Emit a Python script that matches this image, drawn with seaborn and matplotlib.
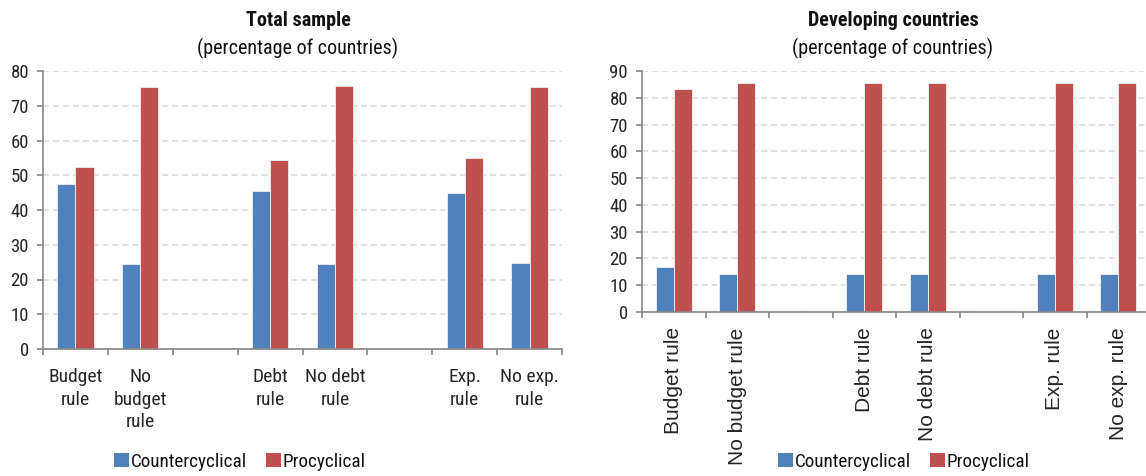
import matplotlib
matplotlib.use("Agg")
import matplotlib.pyplot as plt
from matplotlib import font_manager
from matplotlib.patches import Patch
import numpy as np
import pandas as pd
import seaborn as sns

# ---- data -------------------------------------------------------------
rules = ["Budget rule", "No budget rule", "Debt rule", "No debt rule",
         "Exp. rule", "No exp. rule"]
slots = ["Budget rule", "No budget rule", "gap1", "Debt rule", "No debt rule",
         "gap2", "Exp. rule", "No exp. rule"]
series = ["Countercyclical", "Procyclical"]

total_counter = [47.6, 24.5, 45.5, 24.4, 45.0, 24.7]
total_pro = [52.4, 75.5, 54.5, 75.6, 55.0, 75.3]

dev_counter = [16.7, 14.3, 14.3, 14.3, 14.3, 14.3]
dev_pro = [83.3, 85.7, 85.7, 85.7, 85.7, 85.7]

total_labels = ["Budget\nrule", "No\nbudget\nrule", "", "Debt\nrule",
                "No debt\nrule", "", "Exp.\nrule", "No exp.\nrule"]
dev_labels = ["Budget rule", "No budget rule", "", "Debt rule",
              "No debt rule", "", "Exp. rule", "No exp. rule"]

colors = ["#4F81BD", "#C0504D"]

# ---- styling ----------------------------------------------------------
sns.set_theme(style="white")
installed = {f.name for f in font_manager.fontManager.ttflist}
narrow = next((n for n in ("Roboto Condensed", "Archivo Narrow", "PT Sans Narrow")
               if n in installed), "Liberation Sans")
plt.rcParams["font.family"] = [narrow, "DejaVu Sans"]
plt.rcParams["text.color"] = "#111111"

SPINE = "#868686"
GRID = "#d9d9d9"
FS = 13.5


def long_frame(counter, pro):
    return pd.DataFrame({
        "rule": rules * 2,
        "cycle": [series[0]] * len(rules) + [series[1]] * len(rules),
        "pct": list(counter) + list(pro),
    })


def draw_panel(ax, df, ymax, labels, rotate):
    sns.barplot(data=df, x="rule", y="pct", hue="cycle", order=slots,
                hue_order=series, palette=colors, width=0.56, saturation=1,
                edgecolor="#f2f2f2", linewidth=0.6, legend=False, ax=ax,
                zorder=3)
    ax.set_ylim(0, ymax)
    ax.set_xlim(-0.5, len(slots) - 0.5)
    ax.set_yticks(np.arange(0, ymax + 1, 10))
    ax.yaxis.grid(True, color=GRID, linestyle=(0, (4, 2.5)), linewidth=1.1,
                  zorder=0)
    ax.xaxis.grid(False)
    for s in ("top", "right"):
        ax.spines[s].set_visible(False)
    for s in ("left", "bottom"):
        ax.spines[s].set_color(SPINE)
        ax.spines[s].set_linewidth(1.2)
        ax.spines[s].set_zorder(4)
    ax.set_xlabel("")
    ax.set_ylabel("")
    # boundary ticks between slots, labels at slot centres
    ax.set_xticks(np.arange(-0.5, len(slots), 1.0))
    ax.set_xticklabels([])
    ax.set_xticks(np.arange(len(slots)), minor=True)
    if rotate:
        ax.set_xticklabels(labels, minor=True, rotation=90,
                           fontsize=15, family=["Liberation Sans", "DejaVu Sans"])
        ax.tick_params(axis="x", which="minor", length=0, pad=11)
    else:
        ax.set_xticklabels(labels, minor=True, fontsize=FS + 0.5,
                           linespacing=1.3)
        ax.tick_params(axis="x", which="minor", length=0, pad=14)
    ax.tick_params(axis="x", which="major", length=4.5, width=1.2,
                   color=SPINE, direction="out", bottom=True)
    ax.tick_params(axis="y", which="major", length=4, width=1.2, color=SPINE,
                   direction="out", left=True, labelsize=FS, pad=6)
    ax.set_axisbelow(True)


fig = plt.figure(figsize=(11.46, 4.76), dpi=100)
W, H = 1146, 476

ax1 = fig.add_axes([43 / W, 1 - 349 / H, (562 - 43) / W, (349 - 71) / H])
ax2 = fig.add_axes([642 / W, 1 - 312 / H, (1150 - 642) / W, (312 - 71) / H])

draw_panel(ax1, long_frame(total_counter, total_pro), 80, total_labels, False)
draw_panel(ax2, long_frame(dev_counter, dev_pro), 90, dev_labels, True)

# titles
fig.text(298 / W, 1 - 21 / H, "Total sample", ha="center", va="center",
         fontsize=FS + 1, fontweight="bold")
fig.text(298 / W, 1 - 48 / H, "(percentage of countries)", ha="center",
         va="center", fontsize=FS + 1)
fig.text(893 / W, 1 - 21 / H, "Developing countries", ha="center",
         va="center", fontsize=FS + 1, fontweight="bold")
fig.text(893 / W, 1 - 48 / H, "(percentage of countries)", ha="center",
         va="center", fontsize=FS + 1)

# legends
handles = [Patch(facecolor=c, edgecolor="none", label=s)
           for c, s in zip(colors, series)]
for cx in (240 / W, 904 / W):
    fig.legend(handles=handles, loc="center", bbox_to_anchor=(cx, 1 - 462 / H),
               ncol=2, frameon=False, fontsize=FS + 0.3, handlelength=0.75,
               handleheight=0.75, handletextpad=0.12, columnspacing=1.0,
               borderaxespad=0, borderpad=0)

fig.savefig("out.png", dpi=100)
